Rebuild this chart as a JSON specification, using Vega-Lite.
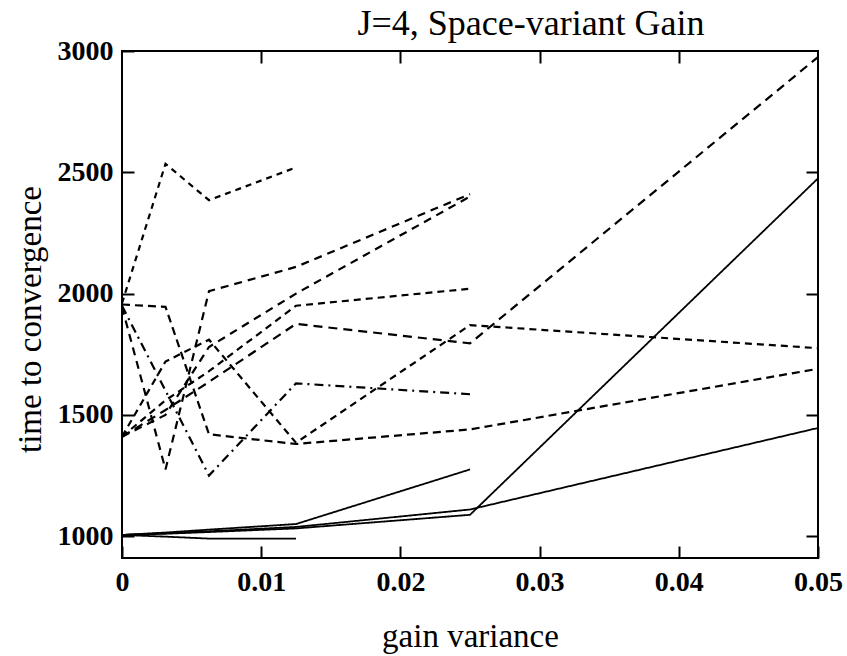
{
  "$schema": "https://vega.github.io/schema/vega-lite/v6.json",
  "width": 696,
  "height": 507,
  "autosize": {"type": "none"},
  "padding": {"left": 122, "top": 51, "right": 29, "bottom": 98},
  "background": "white",
  "title": {"text": "J=4, Space-variant Gain", "font": "Liberation Serif", "fontSize": 36, "fontWeight": "normal", "color": "black", "anchor": "middle", "dx": 61, "offset": -6},
  "config": {
    "view": {"stroke": "black", "strokeWidth": 2},
    "axis": {"domain": false, "grid": false, "tickColor": "black", "tickWidth": 2, "tickSize": -12, "labelFont": "Liberation Serif", "labelFontSize": 28, "labelFontWeight": "bold", "labelColor": "black", "labelFlush": false, "labelOverlap": false, "titleFont": "Liberation Serif", "titleFontSize": 33, "titleFontWeight": "normal", "titleColor": "black"}
  },
  "data": {"values": [
    {"series": "S1", "x": 0, "y": 1005}, {"series": "S1", "x": 0.003125, "y": 1015}, {"series": "S1", "x": 0.00625, "y": 1027}, {"series": "S1", "x": 0.0125, "y": 1050}, {"series": "S1", "x": 0.025, "y": 1275},
    {"series": "S2", "x": 0, "y": 1005}, {"series": "S2", "x": 0.003125, "y": 998}, {"series": "S2", "x": 0.00625, "y": 990}, {"series": "S2", "x": 0.0125, "y": 990},
    {"series": "S3", "x": 0, "y": 1005}, {"series": "S3", "x": 0.003125, "y": 1012}, {"series": "S3", "x": 0.00625, "y": 1020}, {"series": "S3", "x": 0.0125, "y": 1038}, {"series": "S3", "x": 0.025, "y": 1110}, {"series": "S3", "x": 0.05, "y": 1446},
    {"series": "S4", "x": 0, "y": 1005}, {"series": "S4", "x": 0.003125, "y": 1010}, {"series": "S4", "x": 0.00625, "y": 1017}, {"series": "S4", "x": 0.0125, "y": 1032}, {"series": "S4", "x": 0.025, "y": 1088}, {"series": "S4", "x": 0.05, "y": 2475},
    {"series": "d1", "x": 0, "y": 1960}, {"series": "d1", "x": 0.003125, "y": 2535}, {"series": "d1", "x": 0.00625, "y": 2385}, {"series": "d1", "x": 0.0125, "y": 2520},
    {"series": "d2", "x": 0, "y": 1945}, {"series": "d2", "x": 0.003125, "y": 1275}, {"series": "d2", "x": 0.00625, "y": 2010}, {"series": "d2", "x": 0.0125, "y": 2110}, {"series": "d2", "x": 0.025, "y": 2410},
    {"series": "d3", "x": 0, "y": 1950}, {"series": "d3", "x": 0.003125, "y": 1600}, {"series": "d3", "x": 0.00625, "y": 1250}, {"series": "d3", "x": 0.0125, "y": 1630}, {"series": "d3", "x": 0.025, "y": 1585},
    {"series": "d4", "x": 0, "y": 1955}, {"series": "d4", "x": 0.003125, "y": 1945}, {"series": "d4", "x": 0.00625, "y": 1420}, {"series": "d4", "x": 0.0125, "y": 1380}, {"series": "d4", "x": 0.025, "y": 1440}, {"series": "d4", "x": 0.05, "y": 1690},
    {"series": "d5", "x": 0, "y": 1410}, {"series": "d5", "x": 0.003125, "y": 1720}, {"series": "d5", "x": 0.00625, "y": 1810}, {"series": "d5", "x": 0.0125, "y": 1385}, {"series": "d5", "x": 0.025, "y": 1870}, {"series": "d5", "x": 0.05, "y": 1775},
    {"series": "d6", "x": 0, "y": 1410}, {"series": "d6", "x": 0.003125, "y": 1520}, {"series": "d6", "x": 0.00625, "y": 1636}, {"series": "d6", "x": 0.0125, "y": 1875}, {"series": "d6", "x": 0.025, "y": 1795}, {"series": "d6", "x": 0.05, "y": 2975},
    {"series": "d7", "x": 0, "y": 1410}, {"series": "d7", "x": 0.003125, "y": 1500}, {"series": "d7", "x": 0.00625, "y": 1780}, {"series": "d7", "x": 0.0125, "y": 2000}, {"series": "d7", "x": 0.025, "y": 2400},
    {"series": "d8", "x": 0, "y": 1410}, {"series": "d8", "x": 0.003125, "y": 1560}, {"series": "d8", "x": 0.00625, "y": 1680}, {"series": "d8", "x": 0.0125, "y": 1950}, {"series": "d8", "x": 0.025, "y": 2020}
  ]},
  "layer": [
    {
      "transform": [{"filter": "indexof(['S1','S2','S3','S4'], datum.series) >= 0"}],
      "mark": {"type": "line", "color": "black", "strokeWidth": 1.8},
      "encoding": {
        "x": {"field": "x", "type": "quantitative", "scale": {"domain": [0, 0.05], "nice": false, "zero": false}, "axis": {"orient": "bottom", "values": [0, 0.01, 0.02, 0.03, 0.04, 0.05], "labelExpr": "datum.value == 0 ? '0' : format(datum.value, '.2f')", "labelPadding": 22, "title": "gain variance", "titlePadding": 24}},
        "y": {"field": "y", "type": "quantitative", "scale": {"domain": [910, 3000], "nice": false, "zero": false}, "axis": {"orient": "left", "values": [1000, 1500, 2000, 2500, 3000], "format": "d", "labelPadding": 21, "title": "time to convergence", "titlePadding": 10, "titleY": 268}},
        "detail": {"field": "series"},
        "strokeDash": {"field": "series", "type": "nominal", "legend": null, "scale": {"domain": ["S1", "S2", "S3", "S4", "d1", "d2", "d3", "d4", "d5", "d6", "d7", "d8"], "range": [[1, 0], [1, 0], [1, 0], [1, 0], [6, 5], [8, 6], [9, 5, 2, 5], [8, 5], [7, 5], [9, 6], [8, 6], [7, 5]]}}
      }
    },
    {
      "transform": [{"filter": "indexof(['S1','S2','S3','S4'], datum.series) < 0"}],
      "mark": {"type": "line", "color": "black", "strokeWidth": 2.2},
      "encoding": {
        "x": {"field": "x", "type": "quantitative", "axis": {"orient": "top", "values": [0.01, 0.02, 0.03, 0.04], "labels": false, "title": null}},
        "y": {"field": "y", "type": "quantitative", "axis": {"orient": "right", "values": [1000, 1500, 2000, 2500], "labels": false, "title": null}},
        "detail": {"field": "series"},
        "strokeDash": {"field": "series", "type": "nominal", "legend": null}
      }
    }
  ],
  "resolve": {"axis": {"x": "independent", "y": "independent"}}
}
